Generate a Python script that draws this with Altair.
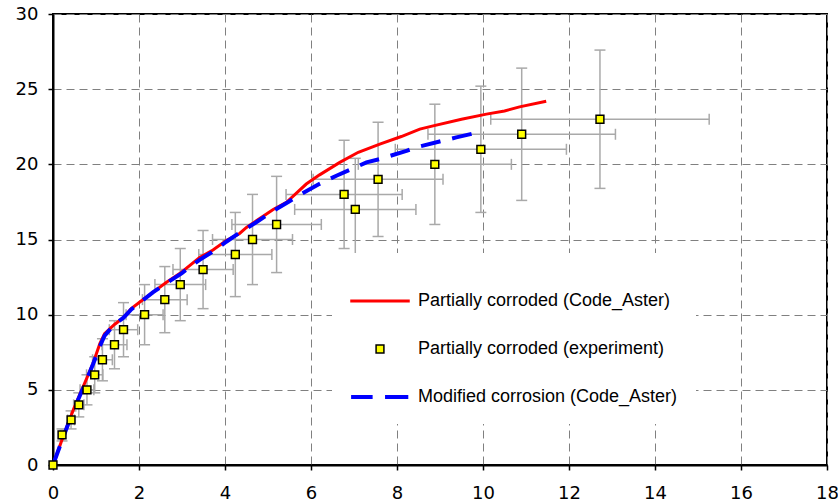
import altair as alt
import pandas as pd

SERIES = [
    "Partially corroded (Code_Aster)",
    "Partially corroded (experiment)",
    "Modified corrosion (Code_Aster)",
]

# Partially corroded (Code_Aster) - red line
red_x = [0, 0.23, 0.47, 0.70, 0.93, 1.09, 1.20, 1.43, 1.64, 1.82, 2.02, 2.33, 2.64, 2.99,
         3.41, 3.72, 4.03, 4.34, 4.50, 5.12, 5.43, 5.89, 6.20, 6.67, 7.10, 7.60, 8.10,
         8.53, 8.84, 9.50, 10.08, 10.50, 10.85, 11.47]
red_y = [0, 1.85, 3.65, 5.20, 6.75, 8.07, 8.74, 9.35, 9.80, 10.40, 10.84, 11.50, 12.16, 12.83,
         13.80, 14.30, 14.93, 15.40, 15.80, 17.00, 17.47, 18.69, 19.30, 20.13, 20.80, 21.35, 21.85,
         22.34, 22.56, 23.00, 23.34, 23.55, 23.82, 24.20]

# Modified corrosion (Code_Aster) - blue dashed line
blue_x = [0, 0.23, 0.47, 0.70, 0.93, 1.09, 1.20, 1.43, 1.64, 1.82, 2.02, 2.33, 2.64, 2.99,
          3.41, 3.72, 4.03, 4.34, 4.70, 5.12, 5.50, 5.78, 6.20, 6.59, 7.29, 7.60, 8.22,
          8.53, 8.99, 9.38, 9.77]
blue_y = [0, 1.80, 3.60, 5.10, 6.70, 7.90, 8.60, 9.35, 9.80, 10.35, 10.80, 11.50, 12.10, 12.75,
          13.65, 14.20, 14.85, 15.45, 16.10, 16.90, 17.55, 18.03, 18.70, 19.24, 20.13, 20.35, 20.90,
          21.19, 21.52, 21.79, 22.05]

# Partially corroded (experiment) - markers with error bars
exp_x = [0, 0.21, 0.42, 0.60, 0.79, 0.97, 1.15, 1.43, 1.64, 2.13, 2.60, 2.96, 3.49, 4.24,
         4.64, 5.20, 6.77, 7.03, 7.56, 8.88, 9.95, 10.90, 12.72]
exp_y = [0, 2, 3, 4, 5, 6, 7, 8, 9, 10, 11, 12, 13, 14, 15, 16, 18, 17, 19, 20, 21, 22, 23]
exp_xlo = [0, 0.17, 0.34, 0.48, 0.63, 0.78, 0.92, 1.14, 1.31, 1.70, 2.08, 2.37, 2.79, 3.39,
           3.71, 4.16, 5.42, 5.62, 6.05, 7.10, 7.96, 8.72, 10.18]
exp_xhi = [0, 0.25, 0.50, 0.72, 0.95, 1.16, 1.38, 1.72, 1.97, 2.56, 3.12, 3.55, 4.19, 5.09,
           5.57, 6.24, 8.12, 8.44, 9.07, 10.66, 11.94, 13.08, 15.26]
exp_ylo = [0, 1.6, 2.4, 3.2, 4.0, 4.8, 5.6, 6.4, 7.2, 8.0, 8.8, 9.6, 10.4, 11.2,
           12.0, 12.8, 14.4, 13.6, 15.2, 16.0, 16.8, 17.6, 18.4]
exp_yhi = [0, 2.4, 3.6, 4.8, 6.0, 7.2, 8.4, 9.6, 10.8, 12.0, 13.2, 14.4, 15.6, 16.8,
           18.0, 19.2, 21.6, 20.4, 22.8, 24.0, 25.2, 26.4, 27.6]

x_ticks = [0, 2, 4, 6, 8, 10, 12, 14, 16, 18]
y_ticks = [0, 5, 10, 15, 20, 25, 30]

red_df = pd.DataFrame({"x": red_x, "y": red_y, "i": list(range(len(red_x)))})
blue_df = pd.DataFrame({"x": blue_x, "y": blue_y, "i": list(range(len(blue_x)))})
exp_df = pd.DataFrame({
    "x": exp_x, "y": exp_y, "xlo": exp_xlo, "xhi": exp_xhi,
    "ylo": exp_ylo, "yhi": exp_yhi, "series": [SERIES[1]] * len(exp_x),
})

xs = alt.Scale(domain=[0, 18], nice=False, zero=False)
ys = alt.Scale(domain=[0, 30], nice=False, zero=False)

x_axis = alt.Axis(values=x_ticks, title=None, format="d", labelFlush=False,
                  labelPadding=14, tickSize=5, labelAlign="center")
y_axis = alt.Axis(values=y_ticks, title=None, format="d", labelFlush=False,
                  labelPadding=10, tickSize=5, labelAlign="right", labelBaseline="middle")

X = alt.X("x:Q", scale=xs, axis=x_axis)
Y = alt.Y("y:Q", scale=ys, axis=y_axis)

ERR = "#a9a9a9"

err_base = alt.Chart(exp_df).transform_filter("datum.x > 0")

v_rule = err_base.mark_rule(color=ERR, strokeWidth=1.5).encode(
    x=alt.X("x:Q", scale=xs, axis=x_axis), y=alt.Y("ylo:Q", scale=ys, axis=y_axis), y2="yhi:Q")
h_rule = err_base.mark_rule(color=ERR, strokeWidth=1.5).encode(
    x=alt.X("xlo:Q", scale=xs, axis=x_axis), x2="xhi:Q", y=alt.Y("y:Q", scale=ys, axis=y_axis))
cap_lo = err_base.mark_tick(color=ERR, orient="horizontal", size=11, thickness=1.5, opacity=1).encode(
    x=alt.X("x:Q", scale=xs, axis=x_axis), y=alt.Y("ylo:Q", scale=ys, axis=y_axis))
cap_hi = err_base.mark_tick(color=ERR, orient="horizontal", size=11, thickness=1.5, opacity=1).encode(
    x=alt.X("x:Q", scale=xs, axis=x_axis), y=alt.Y("yhi:Q", scale=ys, axis=y_axis))
cap_l = err_base.mark_tick(color=ERR, orient="vertical", size=11, thickness=1.5, opacity=1).encode(
    x=alt.X("xlo:Q", scale=xs, axis=x_axis), y=alt.Y("y:Q", scale=ys, axis=y_axis))
cap_r = err_base.mark_tick(color=ERR, orient="vertical", size=11, thickness=1.5, opacity=1).encode(
    x=alt.X("xhi:Q", scale=xs, axis=x_axis), y=alt.Y("y:Q", scale=ys, axis=y_axis))

red_line = alt.Chart(red_df).mark_line(color="#ff0000", strokeWidth=3).encode(
    x=X, y=Y, order="i:Q")
blue_line = alt.Chart(blue_df).mark_line(color="#0000ff", strokeWidth=4, strokeDash=[20, 12]).encode(
    x=X, y=Y, order="i:Q")

# legend symbol shapes (unit box -1..1 scaled by sqrt(size))
LINE_PATH = "M-1,-0.03H1V0.03H-1Z"
SQUARE_PATH = "M-0.135,-0.135H0.135V0.135H-0.135Z"
DASH_PATH = "M-0.97,-0.045H-0.28V0.045H-0.97Z M0.2,-0.045H0.95V0.045H0.2Z"

NBSP = "\u00a0" * 22
legend = alt.Legend(
    title=None, orient="none", legendX=279, legendY=239,
    symbolSize=3364, symbolStrokeWidth=1.5, symbolOpacity=1,
    labelFont="Liberation Sans", labelFontSize=18, labelColor="black",
    labelOffset=8, labelLimit=0, rowPadding=9, padding=18,
    fillColor="white", labelExpr=f"datum.label + '{NBSP}'",
)

points = alt.Chart(exp_df).mark_point(size=3364, strokeWidth=1.5, opacity=1, filled=False).encode(
    x=X, y=Y,
    shape=alt.Shape("series:N", scale=alt.Scale(domain=SERIES, range=[LINE_PATH, SQUARE_PATH, DASH_PATH]), legend=legend),
    fill=alt.Fill("series:N", scale=alt.Scale(domain=SERIES, range=["#ff0000", "#ffff00", "#0000ff"]), legend=legend),
    stroke=alt.Stroke("series:N", scale=alt.Scale(domain=SERIES, range=["#ff0000", "#000000", "#0000ff"]), legend=legend),
)

chart = alt.layer(
    v_rule, h_rule, cap_lo, cap_hi, cap_l, cap_r, red_line, blue_line, points
).properties(
    width=774, height=451,
    autosize=alt.AutoSizeParams(type="none"),
    padding={"left": 53, "top": 14, "right": 11, "bottom": 37},
    background="white",
).configure_view(
    stroke="black", strokeWidth=2
).configure_axis(
    grid=True, gridColor="#808080", gridDash=[8, 5], gridWidth=1, gridOpacity=1,
    domainColor="black", domainWidth=2,
    tickColor="black", tickSize=5, tickWidth=1.5,
    labelFont="DejaVu Sans", labelFontSize=18, labelColor="black",
)

chart.save("out.html", embed_options={"renderer": "svg", "actions": False})
